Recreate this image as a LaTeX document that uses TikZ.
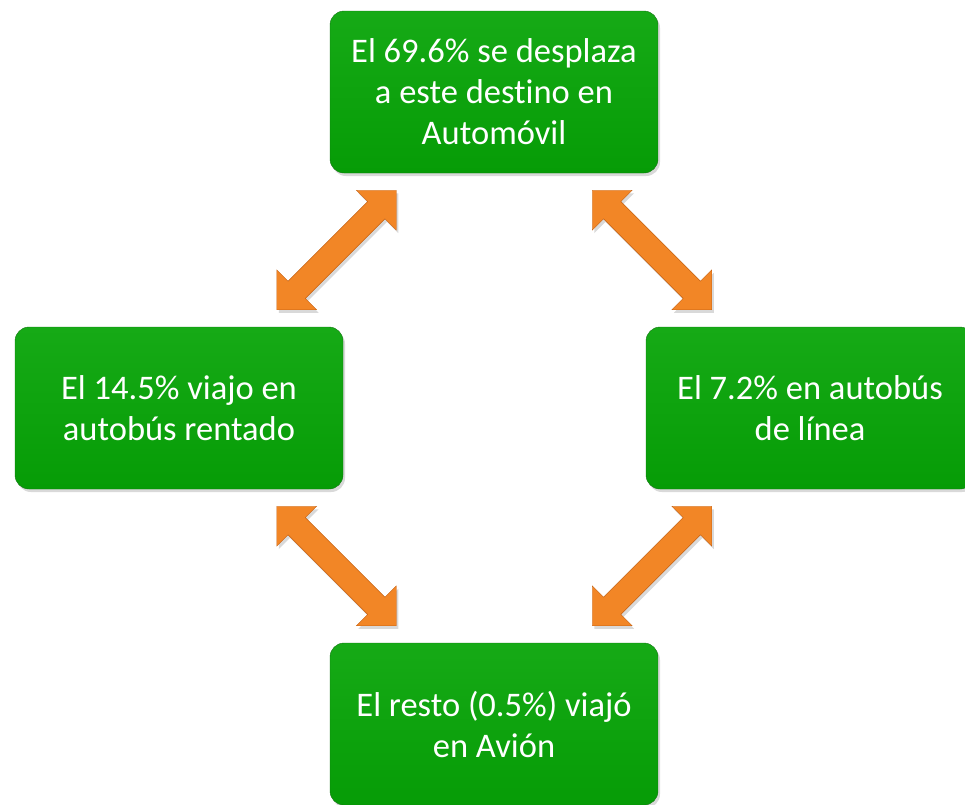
\documentclass[tikz,border=0pt]{standalone}
\usepackage{fontspec}
\setmainfont{Carlito}[Ligatures=NoCommon]
\usetikzlibrary{calc, shapes.arrows, shadows}

\definecolor{boxgreen}{RGB}{6,156,6}
\definecolor{boxtop}{RGB}{22,170,22}
\definecolor{boxedge}{RGB}{20,118,20}
\definecolor{arroworange}{RGB}{242,134,38}
\definecolor{arrowedge}{RGB}{196,96,18}

\tikzset{
  infobox/.style={draw=boxedge, thin, rounded corners=14pt,
    top color=boxtop, bottom color=boxgreen,
    minimum width=328pt, minimum height=162pt, inner sep=0pt,
    text=white, align=center, font=\fontsize{34.5}{41}\selectfont,
    drop shadow={opacity=0.3, shadow xshift=2pt, shadow yshift=-3pt}},
  linkarrow/.style={double arrow, double arrow head extend=16pt,
    minimum height=169pt, inner xsep=0pt, inner ysep=12pt,
    fill=arroworange, draw=arrowedge, thin,
    drop shadow={opacity=0.3, shadow xshift=2pt, shadow yshift=-3pt}}
}

\begin{document}
\begin{tikzpicture}[x=1pt, y=-1pt]
\clip (0, 0) rectangle (965, 804);

% Draw boxes.
\node[infobox] (car) at (494, 92) {El 69.6\% se desplaza\\a este destino en\\Automóvil};
\node[infobox] (rent) at (179, 408) {El 14.5\% viajo en\\autobús rentado};
\node[infobox] (line) at (810, 408) {El 7.2\% en autobús\\de línea};
\node[infobox] (plane) at (494, 724) {El resto (0.5\%) viajó\\en Avión};

% Draw arrows between boxes.
\node[linkarrow, rotate=45] (carrent) at ($(car.south west)!0.5!(rent.north east)$) {};
\node[linkarrow, rotate=-45] (carline) at ($(car.south east)!0.5!(line.north west)$) {};
\node[linkarrow, rotate=-45] (rentplane) at ($(rent.south east)!0.5!(plane.north west)$) {};
\node[linkarrow, rotate=45] (lineplane) at ($(line.south west)!0.5!(plane.north east)$) {};

\end{tikzpicture}
\end{document}
